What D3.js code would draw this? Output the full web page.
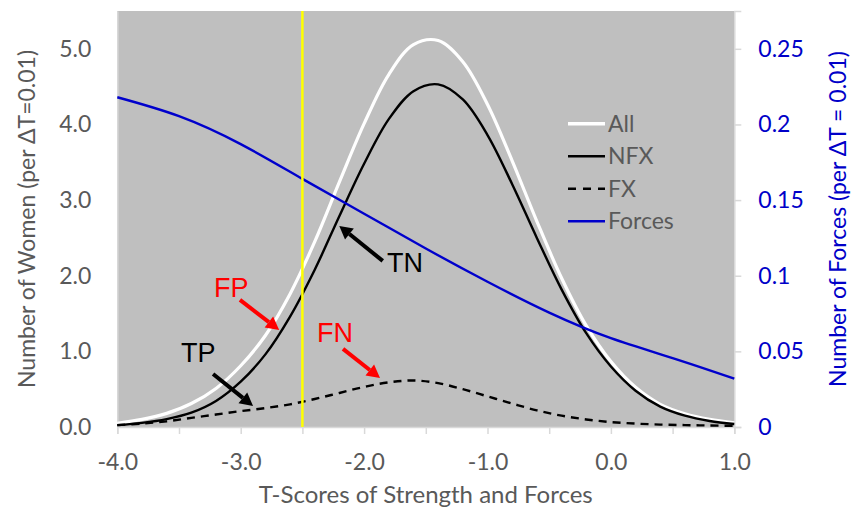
<!DOCTYPE html>
<html>
<head>
<meta charset="utf-8">
<script src="https://cdn.jsdelivr.net/npm/d3@7"></script>
<style>
  html, body { margin: 0; padding: 0; background: #ffffff; }
  svg { display: block; }
</style>
</head>
<body>
<svg id="chart" width="856" height="510"></svg>
<script>
// ---- Data ----
const tScores = [-4.0,-3.8,-3.6,-3.4,-3.2,-3.0,-2.8,-2.6,-2.4,-2.2,-2.0,-1.8,-1.6,-1.4,-1.2,-1.0,-0.8,-0.6,-0.4,-0.2,0.0,0.2,0.4,0.6,0.8,1.0];
const allWomen = [0.05,0.10,0.18,0.31,0.51,0.81,1.21,1.76,2.45,3.24,4.01,4.66,5.055,5.11,4.83,4.265,3.52,2.72,1.97,1.34,0.865,0.525,0.30,0.175,0.10,0.055];
const nfxWomen = [0.025,0.055,0.105,0.19,0.345,0.60,0.96,1.46,2.08,2.79,3.48,4.07,4.44,4.53,4.33,3.86,3.21,2.50,1.82,1.24,0.80,0.48,0.27,0.15,0.08,0.04];
const fxWomen  = [0.025,0.045,0.075,0.12,0.165,0.21,0.25,0.30,0.37,0.45,0.53,0.59,0.615,0.58,0.50,0.405,0.31,0.22,0.15,0.10,0.065,0.045,0.032,0.025,0.02,0.016];
const forceT      = [-4.0,-3.5,-3.0,-2.5,-2.0,-1.5,-1.0,-0.5,0.0,0.5,1.0];
const forceValues = [0.218,0.2055,0.187,0.164,0.141,0.118,0.096,0.0756,0.0587,0.0456,0.032];
const thresholdT = -2.5;

const xTickLabels = [-4.0,-3.0,-2.0,-1.0,0.0,1.0];
const xMinorTicks = [-4.0,-3.5,-3.0,-2.5,-2.0,-1.5,-1.0,-0.5,0.0,0.5,1.0];
const yLeftTicks = [0,1,2,3,4,5];
const yRightTicks = [0,0.05,0.1,0.15,0.2,0.25];

const legendNames = ["All","NFX","FX","Forces"];

// annotations: label, text pos (T, women), arrow tail, arrow tip
const annotations = [
  {label:"TN", color:"#000000", tx:-1.814, ty:2.05, ax:-1.849, ay:2.196, bx:-2.201, by:2.659},
  {label:"FP", color:"#ff0000", tx:-3.216, ty:1.72, ax:-3.006, ay:1.68,  bx:-2.688, by:1.283},
  {label:"FN", color:"#ff0000", tx:-2.382, ty:1.124, ax:-2.171, ay:1.032, bx:-1.871, by:0.648},
  {label:"TP", color:"#000000", tx:-3.484, ty:0.86, ax:-3.224, ay:0.70,  bx:-2.90,  by:0.278}
];

// ---- Layout ----
const svg = d3.select("#chart");
const margin = {left:117.3, right:856-734.3, top:11, bottom:510-427};
const W = 856, H = 510;
const x = d3.scaleLinear().domain([-4,1]).range([margin.left, W - margin.right]);
const yL = d3.scaleLinear().domain([0,5.5]).range([H - margin.bottom, margin.top]);
const yR = d3.scaleLinear().domain([0,0.275]).range([H - margin.bottom, margin.top]);

const tickFont = "Lato, 'Open Sans', sans-serif";
const gray = "#595959";
const blue = "#0000c8";

// plot background
svg.append("rect")
  .attr("x", x(-4)).attr("y", yL(5.5))
  .attr("width", x(1) - x(-4)).attr("height", yL(0) - yL(5.5))
  .attr("fill", "#bfbfbf");

// left axis
const gLeft = svg.append("g").attr("transform", `translate(${x(-4)},0)`)
  .call(d3.axisLeft(yL).tickValues(yLeftTicks).tickFormat(d3.format(".1f")).tickSize(0).tickPadding(26));
gLeft.select(".domain").attr("stroke", "#d9d9d9").attr("stroke-width", 1.5);
gLeft.selectAll("text").attr("font-family", tickFont).attr("font-size", 23).attr("fill", gray);

// right axis
const gRight = svg.append("g").attr("transform", `translate(${x(1)},0)`)
  .call(d3.axisRight(yR).tickValues(yRightTicks).tickFormat(d => d === 0 ? "0" : String(+d.toFixed(2))).tickSize(7).tickPadding(17));
gRight.select(".domain").attr("stroke", "#d9d9d9").attr("stroke-width", 1.5);
gRight.selectAll("line").attr("stroke", "#d9d9d9").attr("stroke-width", 1.5);
gRight.selectAll("text").attr("font-family", tickFont).attr("font-size", 23).attr("fill", blue);

// bottom axis: minor ticks
const gBottomTicks = svg.append("g").attr("transform", `translate(0,${yL(0)})`)
  .call(d3.axisBottom(x).tickValues(xMinorTicks).tickFormat("").tickSize(7));
gBottomTicks.select(".domain").attr("stroke", "#d9d9d9").attr("stroke-width", 1.5);
gBottomTicks.selectAll("line").attr("stroke", "#d9d9d9").attr("stroke-width", 1.5);

const gBottom = svg.append("g").attr("transform", `translate(0,${yL(0)})`)
  .call(d3.axisBottom(x).tickValues(xTickLabels).tickFormat(d3.format(".1f")).tickSize(0).tickPadding(27));
gBottom.select(".domain").remove();
gBottom.selectAll("text").attr("font-family", tickFont).attr("font-size", 23).attr("fill", gray)
  .text(d => d3.format(".1f")(d).replace("−", "-"));

// axis titles
svg.append("text")
  .attr("transform", `translate(35,${(yL(0)+yL(5.5))/2}) rotate(-90)`)
  .attr("text-anchor", "middle")
  .attr("font-family", tickFont).attr("font-size", 23).attr("fill", gray)
  .text("Number of Women (per ΔT=0.01)");

svg.append("text")
  .attr("transform", `translate(846,${(yL(0)+yL(5.5))/2}) rotate(-90)`)
  .attr("text-anchor", "middle")
  .attr("font-family", tickFont).attr("font-size", 23).attr("fill", blue)
  .text("Number of Forces (per ΔT = 0.01)");

svg.append("text")
  .attr("x", (x(-4)+x(1))/2).attr("y", 503)
  .attr("text-anchor", "middle")
  .attr("font-family", tickFont).attr("font-size", 24).attr("fill", gray)
  .text("T-Scores of Strength and Forces");

// lines
const lineL = d3.line().x(d => x(d[0])).y(d => yL(d[1])).curve(d3.curveCatmullRom.alpha(0.5));
const lineR = d3.line().x(d => x(d[0])).y(d => yR(d[1])).curve(d3.curveNatural);

const plot = svg.append("g");
plot.append("path").datum(d3.zip(tScores, allWomen)).attr("d", lineL)
  .attr("fill","none").attr("stroke","#ffffff").attr("stroke-width",3.2);
plot.append("path").datum(d3.zip(tScores, nfxWomen)).attr("d", lineL)
  .attr("fill","none").attr("stroke","#000000").attr("stroke-width",2.4);
plot.append("path").datum(d3.zip(tScores, fxWomen)).attr("d", lineL)
  .attr("fill","none").attr("stroke","#000000").attr("stroke-width",2.4).attr("stroke-dasharray","8,6");
plot.append("path").datum(d3.zip(forceT, forceValues)).attr("d", lineR)
  .attr("fill","none").attr("stroke","#0000cc").attr("stroke-width",2.4);

// threshold line
plot.append("line")
  .attr("x1", x(thresholdT)).attr("x2", x(thresholdT))
  .attr("y1", yL(5.5)).attr("y2", yL(0))
  .attr("stroke", "#ffff00").attr("stroke-width", 2.5);

// legend
const legendStyles = [
  {stroke:"#ffffff", dash:null, width:3.5},
  {stroke:"#000000", dash:null, width:2.5},
  {stroke:"#000000", dash:"8,7", width:2.5},
  {stroke:"#0000cc", dash:null, width:2.5}
];
const legendY = [4.01, 3.58, 3.15, 2.72];
const lg = svg.append("g");
legendNames.forEach((name, i) => {
  const yy = yL(legendY[i]);
  lg.append("line").attr("x1", 568).attr("x2", 605).attr("y1", yy).attr("y2", yy)
    .attr("stroke", legendStyles[i].stroke).attr("stroke-width", legendStyles[i].width)
    .attr("stroke-dasharray", legendStyles[i].dash);
  lg.append("text").attr("x", 608).attr("y", yy).attr("dy", "0.35em")
    .attr("font-family", tickFont).attr("font-size", 23).attr("fill", gray).text(name);
});

// annotations
const ag = svg.append("g");
annotations.forEach(a => {
  const x0 = x(a.ax), y0 = yL(a.ay), x1 = x(a.bx), y1 = yL(a.by);
  const ang = Math.atan2(y1 - y0, x1 - x0);
  const headLen = 13, headW = 7;
  const bx = x1 - headLen * Math.cos(ang), by = y1 - headLen * Math.sin(ang);
  ag.append("line").attr("x1", x0).attr("y1", y0).attr("x2", bx).attr("y2", by)
    .attr("stroke", a.color).attr("stroke-width", 4);
  const px = -Math.sin(ang), py = Math.cos(ang);
  ag.append("path")
    .attr("d", `M${x1},${y1}L${bx + px*headW},${by + py*headW}L${bx - px*headW},${by - py*headW}Z`)
    .attr("fill", a.color);
  ag.append("text").attr("x", x(a.tx)).attr("y", yL(a.ty))
    .attr("font-family", "'Liberation Sans', Arial, sans-serif").attr("font-size", 27)
    .attr("fill", a.color).text(a.label);
});
</script>
</body>
</html>
